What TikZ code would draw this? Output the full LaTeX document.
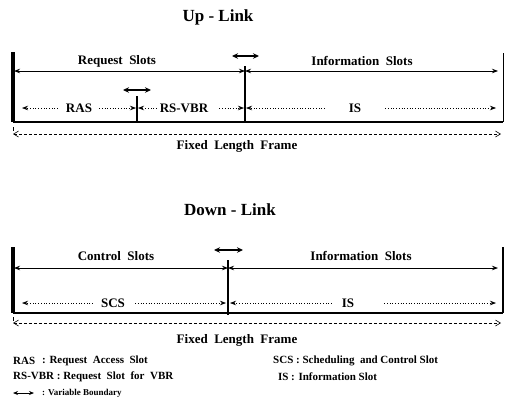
\documentclass[tikz,border=0pt]{standalone}
\usepackage{fontspec}
\setmainfont{Liberation Serif}
\usetikzlibrary{arrows.meta}
\begin{document}
\begin{tikzpicture}[x=1pt,y=-1pt,
  title/.style={font=\fontsize{17}{17}\selectfont\bfseries, inner sep=0pt},
  lbl/.style={font=\fontsize{13}{13}\selectfont\bfseries, inner sep=0pt},
  leg/.style={font=\fontsize{11}{11}\selectfont\bfseries, inner sep=0pt, anchor=west},
  sarrow/.style={line width=0.8pt, -{Stealth[length=6pt,width=4.5pt]}},
  darrow/.style={line width=0.7pt, dotted, -{Stealth[length=6pt,width=4.5pt]}},
  fixarrow/.style={line width=0.6pt, dash pattern=on 3pt off 2pt, {Straight Barb[length=5pt,width=6pt]}-{Straight Barb[length=5pt,width=6pt]}},
  varb/.style={line width=1.5pt, {Stealth[length=6pt,width=5.5pt]}-{Stealth[length=6pt,width=5.5pt]}},
  thickbar/.style={line width=3.2pt},
  midbar/.style={line width=2.2pt},
  smallbar/.style={line width=1.7pt},
  baseline/.style={line width=1.3pt},
  thinbar/.style={line width=0.9pt},
]
\useasboundingbox (0,0) rectangle (505,416);

% ================= Up-Link =================
\node[title] (up) at (218,17) {Up - Link};

\coordinate (uLt) at (13,52);
\coordinate (uLb) at (13,122);
\coordinate (uRt) at (503,53);
\coordinate (uRb) at (503,122);
\coordinate (uMt) at (245,66);
\coordinate (uMb) at (245,122);
\coordinate (uSt) at (137,96);
\coordinate (uSb) at (137,122);

\coordinate (uA0) at (14,71);
\coordinate (uA1) at (245,71);
\coordinate (uA2) at (498,71);

\node[lbl] (reqs) at (117,61) {Request\ \ Slots};
\node[lbl] (infs1) at (362,61) {Information\ \ Slots};

\draw[sarrow] (130,71) -- (uA0);
\draw[sarrow] (130,71) -- (uA1);
\draw[sarrow] (370,71) -- (uA1);
\draw[sarrow] (370,71) -- (uA2);

\coordinate (uv1a) at (232,56);
\coordinate (uv1b) at (259,56);
\draw[varb] (uv1a) -- (uv1b);
\coordinate (uv2a) at (123,90);
\coordinate (uv2b) at (151,90);
\draw[varb] (uv2a) -- (uv2b);

% lower row
\node[lbl] (ras) at (79,108) {RAS};
\node[lbl] (rsvbr) at (184,108) {RS-VBR};
\node[lbl] (is1) at (355,108) {IS};
\coordinate (r0) at (22,108);
\coordinate (r1l) at (136,108);
\coordinate (r1r) at (138,108);
\coordinate (r2l) at (244,108);
\coordinate (r2r) at (246,108);
\coordinate (r3) at (496,108);
\draw[darrow] ([xshift=-8pt]ras.west) -- (r0);
\draw[darrow] ([xshift=7pt]ras.east) -- (r1l);
\draw[darrow] ([xshift=-3pt]rsvbr.west) -- (r1r);
\draw[darrow] ([xshift=11pt]rsvbr.east) -- (r2l);
\draw[darrow] ([xshift=-24pt]is1.west) -- (r2r);
\draw[darrow] ([xshift=24pt]is1.east) -- (r3);

\draw[thickbar] (uLt) -- (uLb);
\draw[thinbar] (uRt) -- (uRb);
\draw[baseline] (uLb) -- (uRb);
\draw[midbar] (uMt) -- (uMb);
\draw[smallbar] (uSt) -- (uSb);

% fixed length frame
\coordinate (uF0) at (13,134);
\coordinate (uF1) at (501,134);
\draw[fixarrow] (uF0) -- (uF1);
\coordinate (uFt) at (13,127);
\draw[line width=0.5pt] (uFt) -- (13,131);
\node[lbl] (fix1) at (237,146) {Fixed\ \ Length\ \ Frame};

% ================= Down-Link =================
\node[title] (down) at (230,210) {Down - Link};

\coordinate (dLt) at (13,247);
\coordinate (dLb) at (13,313);
\coordinate (dRt) at (503,247);
\coordinate (dRb) at (503,313);
\coordinate (dMt) at (228,260);
\coordinate (dMb) at (228,315);

\coordinate (dA0) at (14,268);
\coordinate (dA1) at (228,268);
\coordinate (dA2) at (498,268);
\node[lbl] (ctls) at (116,256) {Control\ \ Slots};
\node[lbl] (infs2) at (361,256) {Information\ \ Slots};
\draw[sarrow] (120,268) -- (dA0);
\draw[sarrow] (120,268) -- (dA1);
\draw[sarrow] (360,268) -- (dA1);
\draw[sarrow] (360,268) -- (dA2);

\coordinate (dv1a) at (214,250);
\coordinate (dv1b) at (243,250);
\draw[varb] (dv1a) -- (dv1b);

\node[lbl] (scs) at (113,303) {SCS};
\node[lbl] (is2) at (348,303) {IS};
\coordinate (s0) at (22,303);
\coordinate (s1l) at (226,303);
\coordinate (s1r) at (230,303);
\coordinate (s2) at (496,303);
\draw[darrow] ([xshift=-8pt]scs.west) -- (s0);
\draw[darrow] ([xshift=10pt]scs.east) -- (s1l);
\draw[darrow] ([xshift=-10pt]is2.west) -- (s1r);
\draw[darrow] ([xshift=30pt]is2.east) -- (s2);

\draw[thickbar] (dLt) -- (dLb);
\draw[midbar] (dRt) -- (dRb);
\draw[baseline] (dLb) -- (dRb);
\draw[midbar] (dMt) -- (dMb);

\coordinate (dF0) at (13,323);
\coordinate (dF1) at (501,323);
\draw[fixarrow] (dF0) -- (dF1);
\coordinate (dFt) at (13,317);
\draw[line width=0.5pt] (dFt) -- (13,321);
\node[lbl] (fix2) at (237,340) {Fixed\ \ Length\ \ Frame};

% ================= Legend =================
\node[leg] (lras) at (13,361) {RAS};
\node[leg] (lrasd) at (42,361) {: Request\ \ Access\ \ Slot};
\node[leg] (lrsvbr) at (13,377) {RS-VBR : Request\ \ Slot\ \ for\ \ VBR};
\node[leg] (lscs) at (273,361) {SCS : Scheduling\ \ and Control Slot};
\node[leg] (lis) at (278,377) {IS};
\node[leg] (lisd) at (291,377) {: Information Slot};
\coordinate (lv0) at (13,393);
\coordinate (lv1) at (34,393);
\draw[line width=1pt, {Stealth[length=5pt,width=4pt]}-{Stealth[length=5pt,width=4pt]}] (lv0) -- (lv1);
\node[leg, font=\fontsize{9}{9}\selectfont\bfseries] (lvb) at (42,393) {: Variable Boundary};
\end{tikzpicture}
\end{document}
